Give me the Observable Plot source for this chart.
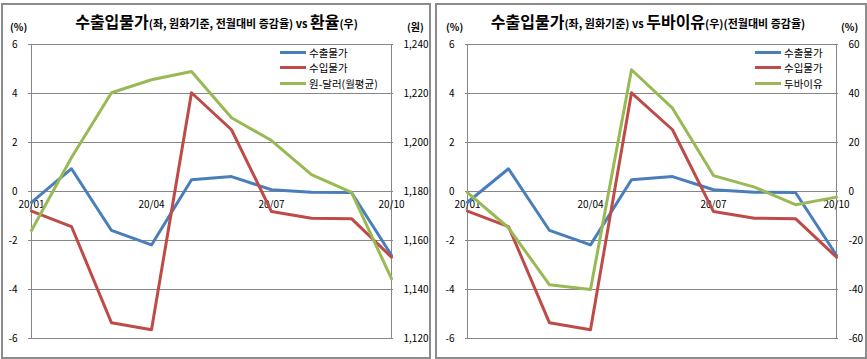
<!DOCTYPE html>
<html><head><meta charset="utf-8">
<script src="https://cdn.jsdelivr.net/npm/d3@7"></script>
<script src="https://cdn.jsdelivr.net/npm/@observablehq/plot@0.6"></script>
<style>
body{margin:0;background:#fff;width:867px;height:359px;overflow:hidden;position:relative;font-family:"Noto Sans CJK KR","Noto Sans",sans-serif;color:#000;}
.panel{position:absolute;top:0;height:359px;}
.panel svg{position:absolute;left:0;top:0;}
.frame{position:absolute;border:2px solid #8c8c8c;box-sizing:border-box;pointer-events:none;}
.title{position:absolute;top:9px;left:0;width:100%;text-align:center;font-weight:bold;white-space:nowrap;line-height:24px;}
.big{font-size:16px}.small{font-size:11px}
.unit{position:absolute;top:21px;font-size:10px;font-weight:bold;line-height:12px;}
.legend{position:absolute;font-size:10.5px;}
.legend div{height:15.3px;line-height:15.3px;display:flex;align-items:center;white-space:nowrap;}
.sw{width:26px;height:3px;margin-right:3px;}
</style></head><body>
<div id="p1" class="panel" style="left:0;width:433px"></div>
<div id="p2" class="panel" style="left:433px;width:434px"></div>
<script>
const months = ["20/01","20/02","20/03","20/04","20/05","20/06","20/07","20/08","20/09","20/10"];
const exportPrice = [-0.44, 0.93, -1.59, -2.18, 0.48, 0.61, 0.07, -0.03, -0.04, -2.6];
const importPrice = [-0.80, -1.43, -5.36, -5.64, 4.03, 2.52, -0.82, -1.09, -1.11, -2.68];
const krwUsd = [1164.1, 1193.9, 1220.3, 1225.6, 1229.0, 1210.1, 1200.8, 1186.9, 1179.6, 1144.4];
const dubai = [-0.5, -14.8, -38.1, -40.0, 49.7, 34.0, 6.5, 1.8, -5.4, -2.3];
const xTickLabels = ["20/01","20/04","20/07","20/10"];
const leftTicks = [-6,-4,-2,0,2,4,6];
const fxTickLabels = ["1,120","1,140","1,160","1,180","1,200","1,220","1,240"];
const oilTickLabels = ["-60","-40","-20","0","20","40","60"];
const seriesNames1 = ["수출물가","수입물가","원-달러(월평균)"];
const seriesNames2 = ["수출물가","수입물가","두바이유"];
const colors = ["#4A7EBB","#BE4B48","#98B954"];

function makePlot(width, ml, mr, secValues, secMap, secLabels) {
  const rows = months.map((m,i)=>({m, ex: exportPrice[i], im: importPrice[i], sec: secMap(secValues[i])}));
  const grid = "#868686";
  return Plot.plot({
    width, height: 359,
    marginLeft: ml, marginRight: mr, marginTop: 44, marginBottom: 21,
    style: {fontFamily: '"Noto Sans CJK KR","Noto Sans",sans-serif', fontSize: "10px", color: "#000", background: "transparent", overflow: "visible"},
    x: {type: "point", domain: months, padding: 0, axis: null},
    y: {domain: [-6, 6], axis: null},
    marks: [
      Plot.ruleY(leftTicks, {stroke: grid, strokeWidth: 1}),
      Plot.ruleX([months[0], months[months.length-1]], {stroke: grid, strokeWidth: 1}),
      Plot.axisY({ticks: leftTicks, tickSize: 0, tickPadding: 11, fontSize: 10, tickFormat: d => String(d).replace("−","-")}),
      Plot.axisY({anchor: "right", ticks: leftTicks, tickSize: 0, tickPadding: 10, fontSize: 10, tickFormat: d => secLabels[leftTicks.indexOf(d)]}),
      Plot.text(xTickLabels, {x: d => d, y: 0, dy: 13, fontSize: 10, fill: "#000"}),
      Plot.line(rows, {x: "m", y: "ex", stroke: colors[0], strokeWidth: 3, strokeLinejoin: "round"}),
      Plot.line(rows, {x: "m", y: "im", stroke: colors[1], strokeWidth: 3, strokeLinejoin: "round"}),
      Plot.line(rows, {x: "m", y: "sec", stroke: colors[2], strokeWidth: 3, strokeLinejoin: "round"})
    ]
  });
}

function legendHTML(names){
  return names.map((n,i)=>`<div><span class="sw" style="background:${colors[i]}"></span>${n}</div>`).join("");
}

const p1 = document.getElementById("p1");
p1.appendChild(makePlot(433, 28, 40, krwUsd, v => (v - 1180) / 10, fxTickLabels));
p1.insertAdjacentHTML("beforeend", `
  <div class="frame" style="left:1px;top:3px;width:430px;height:356px"></div>
  <div class="title"><span class="big">수출입물가</span><span class="small">(좌, 원화기준, 전월대비 증감율) vs </span><span class="big">환율</span><span class="small">(우)</span></div>
  <div class="unit" style="left:10px">(%)</div>
  <div class="unit" style="left:407px">(원)</div>
  <div class="legend" style="left:280px;top:45px">${legendHTML(seriesNames1)}</div>`);

const p2 = document.getElementById("p2");
p2.appendChild(makePlot(434, 32, 29, dubai, v => v / 10, oilTickLabels));
p2.insertAdjacentHTML("beforeend", `
  <div class="frame" style="left:2px;top:3px;width:432px;height:356px"></div>
  <div class="title" style="left:-2px"><span class="big">수출입물가</span><span class="small">(좌, 원화기준) vs </span><span class="big">두바이유</span><span class="small">(우)(전월대비 증감율)</span></div>
  <div class="unit" style="left:13px">(%)</div>
  <div class="unit" style="left:408px">(%)</div>
  <div class="legend" style="left:322px;top:45px">${legendHTML(seriesNames2)}</div>`);
</script>
</body></html>
